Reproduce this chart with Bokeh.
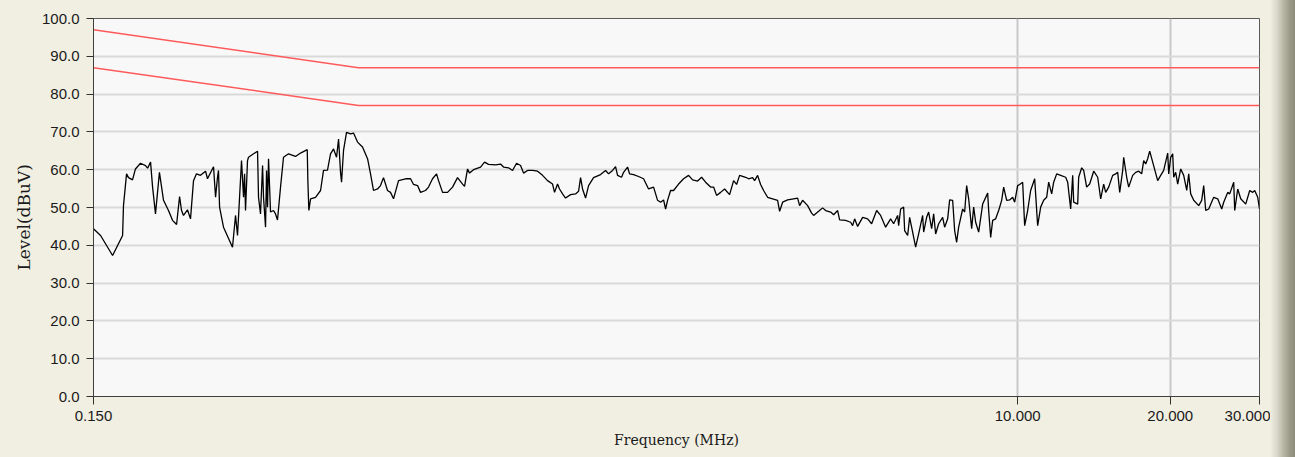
import re
from bokeh.plotting import figure
from bokeh.models import FixedTicker, CustomJSTickFormatter, PrintfTickFormatter, Title
from bokeh.embed import file_html
from bokeh.resources import INLINE

# ---- data ----
freq_mhz = [
    0.1500, 0.1549, 0.1636, 0.1712, 0.1719, 0.1743, 0.1759, 0.1791, 0.1815, 0.1857,
    0.1900, 0.1918, 0.1944, 0.1962, 0.1988, 0.2024, 0.2062, 0.2109, 0.2148, 0.2188,
    0.2218, 0.2238, 0.2258, 0.2299, 0.2331, 0.2363, 0.2395, 0.2439, 0.2496, 0.2518,
    0.2588, 0.2612, 0.2635, 0.2647, 0.2660, 0.2708, 0.2821, 0.2860, 0.2886, 0.2899,
    0.2939, 0.2966, 0.2980, 0.2993, 0.3020, 0.3034, 0.3104, 0.3161, 0.3175, 0.3204,
    0.3234, 0.3248, 0.3278, 0.3293, 0.3308, 0.3323, 0.3353, 0.3399, 0.3430, 0.3461,
    0.3509, 0.3557, 0.3639, 0.3757, 0.3843, 0.3962, 0.3973, 0.3991, 0.4022, 0.4114,
    0.4209, 0.4266, 0.4344, 0.4404, 0.4465, 0.4526, 0.4568, 0.4609, 0.4630, 0.4672,
    0.4736, 0.4823, 0.4889, 0.4979, 0.5093, 0.5211, 0.5282, 0.5354, 0.5452, 0.5527,
    0.5603, 0.5706, 0.5784, 0.5864, 0.5999, 0.6193, 0.6335, 0.6422, 0.6540, 0.6630,
    0.6781, 0.6875, 0.7001, 0.7130, 0.7195, 0.7327, 0.7495, 0.7667, 0.7843, 0.8024,
    0.8097, 0.8208, 0.8283, 0.8435, 0.8708, 0.8867, 0.9030, 0.9322, 0.9537, 0.9667,
    0.9889, 1.0071, 1.0256, 1.0444, 1.0587, 1.0781, 1.1029, 1.1282, 1.1542, 1.1807,
    1.2078, 1.2188, 1.2356, 1.2468, 1.2640, 1.2813, 1.3108, 1.3409, 1.3594, 1.3718,
    1.3843, 1.4033, 1.4226, 1.4552, 1.5023, 1.5368, 1.5579, 1.5865, 1.6082, 1.6229,
    1.6527, 1.6678, 1.6984, 1.7139, 1.7454, 1.7855, 1.8265, 1.8685, 1.9115, 1.9466,
    1.9733, 2.0004, 2.0187, 2.0371, 2.0651, 2.0934, 2.1416, 2.1907, 2.2411, 2.2822,
    2.3347, 2.3775, 2.4211, 2.4768, 2.5108, 2.5453, 2.5920, 2.6395, 2.7002, 2.7497,
    2.7875, 2.8257, 2.9039, 2.9438, 2.9978, 3.0251, 3.0667, 3.1088, 3.1514, 3.2092,
    3.2830, 3.3585, 3.3892, 3.4358, 3.5146, 3.6118, 3.6781, 3.7117, 3.7627, 3.8492,
    3.9198, 3.9555, 4.0465, 4.1207, 4.1772, 4.2733, 4.3319, 4.4114, 4.4517, 4.5748,
    4.6800, 4.7228, 4.7658, 4.8313, 4.9424, 5.0559, 5.1487, 5.2669, 5.3636, 5.4868,
    5.6130, 5.6900, 5.7944, 5.8209, 5.8740, 5.9546, 5.9818, 6.0639, 6.1192, 6.2033,
    6.2884, 6.3748, 6.4918, 6.5213, 6.6108, 6.6713, 6.7629, 6.8245, 6.8868, 6.9815,
    7.1096, 7.1744, 7.2729, 7.3393, 7.4401, 7.5080, 7.5765, 7.6458, 7.7861, 7.8572,
    7.9289, 8.0014, 8.1112, 8.1852, 8.2599, 8.3735, 8.5271, 8.7230, 8.7628, 8.8428,
    8.9236, 9.0459, 9.1703, 9.2961, 9.3810, 9.5098, 9.6404, 9.7728, 9.8618, 9.9971,
    10.088, 10.227, 10.320, 10.462, 10.605, 10.800, 10.948, 11.099, 11.251, 11.405,
    11.510, 11.668, 11.774, 11.936, 12.155, 12.434, 12.548, 12.720, 12.837, 12.895,
    13.132, 13.191, 13.373, 13.494, 13.679, 13.867, 14.122, 14.381, 14.579, 14.778,
    14.913, 15.118, 15.395, 15.607, 15.750, 15.894, 16.112, 16.185, 16.407, 16.557,
    16.861, 17.092, 17.327, 17.564, 17.725, 17.887, 18.050, 18.215, 18.465, 18.889,
    19.149, 19.412, 19.768, 19.858, 20.040, 20.223, 20.314, 20.499, 20.687, 20.971,
    21.259, 21.551, 21.748, 21.946, 22.247, 22.759, 23.071, 23.282, 23.495, 23.817,
    24.364, 24.811, 25.266, 25.497, 25.965, 26.202, 26.683, 26.805, 27.173, 27.546,
    28.179, 28.696, 29.090, 29.355, 29.758, 30.000,
]
level_dbuv = [
    44.4, 42.6, 37.3, 42.6, 50.5, 58.9, 57.9, 57.3, 60.2, 61.7,
    61.1, 60.4, 62.0, 55.4, 48.3, 59.3, 51.9, 49.2, 46.6, 45.5,
    52.9, 49.2, 47.9, 49.4, 47.0, 57.1, 58.9, 58.5, 59.6, 57.6,
    60.8, 52.7, 58.0, 59.8, 50.1, 44.8, 39.5, 47.9, 42.6, 47.4,
    62.4, 52.7, 58.9, 49.2, 62.4, 63.3, 64.2, 64.9, 52.7, 48.3,
    61.1, 52.7, 44.8, 59.8, 50.1, 62.9, 48.8, 49.2, 48.3, 46.7,
    55.4, 63.3, 64.2, 63.5, 64.4, 65.3, 57.1, 49.2, 52.3, 52.7,
    54.5, 59.8, 59.9, 64.2, 65.5, 63.3, 68.1, 59.3, 56.7, 65.1,
    69.9, 69.5, 69.7, 67.3, 66.0, 62.9, 58.9, 54.5, 54.9, 55.8,
    57.9, 54.5, 54.0, 52.3, 57.1, 57.6, 57.6, 56.1, 55.8, 54.0,
    54.5, 55.4, 57.6, 58.9, 57.1, 54.0, 54.0, 55.4, 57.9, 56.2,
    55.6, 60.2, 59.1, 60.0, 60.7, 62.0, 61.4, 61.3, 61.5, 60.7,
    60.5, 59.8, 61.7, 61.1, 59.1, 59.8, 59.8, 59.6, 58.5, 57.1,
    56.2, 54.0, 56.2, 54.9, 53.6, 52.5, 53.4, 53.6, 54.3, 57.9,
    54.9, 52.5, 55.8, 57.9, 58.7, 59.8, 58.9, 59.8, 60.8, 58.5,
    58.0, 59.3, 60.7, 58.9, 58.7, 58.2, 57.6, 54.9, 55.4, 51.9,
    51.4, 52.0, 49.6, 51.9, 54.5, 54.5, 56.2, 57.6, 58.5, 57.3,
    57.0, 58.0, 56.7, 55.4, 55.4, 53.2, 54.0, 54.9, 53.4, 57.1,
    56.1, 58.5, 58.0, 57.6, 57.9, 57.1, 58.5, 56.1, 54.5, 52.7,
    52.3, 51.9, 49.0, 51.4, 52.0, 52.3, 52.5, 50.5, 51.9, 50.5,
    48.5, 47.9, 49.0, 49.9, 49.2, 48.8, 48.1, 49.2, 46.7, 46.6,
    46.1, 45.2, 47.0, 45.0, 47.4, 47.0, 45.7, 49.2, 47.9, 44.8,
    47.0, 45.7, 47.9, 45.2, 49.6, 50.1, 43.9, 42.6, 47.4, 43.5,
    39.5, 43.0, 47.9, 43.5, 47.4, 48.8, 44.4, 48.3, 43.0, 45.7,
    47.4, 44.8, 47.0, 52.0, 51.9, 43.9, 40.8, 44.8, 49.6, 48.8,
    55.8, 52.3, 44.4, 50.1, 46.1, 43.5, 50.9, 53.8, 49.2, 42.1,
    46.6, 47.0, 49.2, 51.9, 55.4, 51.9, 52.0, 52.7, 51.4, 55.8,
    56.1, 56.7, 45.2, 49.2, 54.5, 57.6, 45.2, 50.1, 51.9, 52.7,
    56.7, 53.6, 56.7, 58.9, 58.5, 58.0, 56.7, 49.6, 58.5, 51.4,
    50.9, 58.0, 60.5, 59.8, 55.4, 56.2, 59.6, 58.0, 52.3, 56.2,
    54.0, 55.4, 58.5, 58.9, 59.3, 54.0, 59.8, 63.3, 58.0, 55.4,
    58.5, 59.3, 59.6, 58.9, 62.4, 61.5, 62.9, 64.9, 62.0, 57.1,
    58.5, 59.8, 64.4, 58.9, 63.3, 64.2, 58.0, 59.3, 56.2, 60.2,
    58.5, 54.5, 58.9, 53.6, 51.9, 50.5, 51.9, 55.8, 49.2, 49.6,
    52.7, 52.3, 49.6, 51.4, 54.0, 53.6, 56.7, 49.2, 54.9, 52.3,
    50.9, 54.5, 54.0, 54.5, 52.7, 49.6,
]

limit_freq = [0.15, 0.5, 30.0]
limit_upper = [97.0, 87.0, 87.0]
limit_lower = [87.0, 77.0, 77.0]

x_tick_values = [0.15, 10.0, 20.0, 30.0]
y_tick_values = [0, 10, 20, 30, 40, 50, 60, 70, 80, 90, 100]

BEIGE = "#F1EFE2"

p = figure(
    width=1270, height=455,
    x_axis_type="log", x_range=(0.15, 30.0), y_range=(0, 100),
    output_backend="svg", toolbar_location=None, title=None,
    min_border_left=93, min_border_right=11, min_border_top=18, min_border_bottom=59,
)
p.background_fill_color = "#F8F8F8"
p.border_fill_color = BEIGE
p.outline_line_color = "#5A5A5A"
p.outline_line_width = 1

# grids
p.xgrid.ticker = FixedTicker(ticks=x_tick_values)
p.xgrid.grid_line_color = "#C8C8C8"
p.xgrid.grid_line_width = 2
p.ygrid.ticker = FixedTicker(ticks=y_tick_values)
p.ygrid.grid_line_color = "#D9D9D9"
p.ygrid.grid_line_width = 2

# axes
p.xaxis.ticker = FixedTicker(ticks=x_tick_values)
p.xaxis.formatter = CustomJSTickFormatter(code="return tick.toFixed(3);")
p.yaxis.ticker = FixedTicker(ticks=y_tick_values)
p.yaxis.formatter = PrintfTickFormatter(format="%.1f")

for ax in (p.xaxis[0], p.yaxis[0]):
    ax.axis_line_color = "#404040"
    ax.axis_line_width = 1
    ax.major_tick_line_color = "#303030"
    ax.major_tick_in = 0
    ax.minor_tick_line_color = None
    ax.major_label_text_font = "Liberation Sans"
    ax.major_label_text_font_size = "15px"
    ax.major_label_text_color = "#1A1A1A"
    ax.axis_label_text_font = "DejaVu Serif"
    ax.axis_label_text_font_size = "14px"
    ax.axis_label_text_font_style = "normal"
    ax.axis_label_text_color = "#1A1A1A"

p.yaxis.major_tick_out = 7
p.yaxis.major_label_standoff = 7
p.xaxis.major_tick_out = 8
p.xaxis.major_label_standoff = 6
p.xaxis.axis_label = "Frequency (MHz)"
p.xaxis.axis_label_standoff = 8

# y axis title placed as a side title so it can be positioned along the axis
ytitle = Title(
    text="Level(dBuV)", align="left", offset=126, standoff=9,
    text_font="DejaVu Serif", text_font_size="17px", text_font_style="normal",
    text_color="#1A1A1A",
)
p.add_layout(ytitle, "left")

# limit lines
p.line(limit_freq, limit_upper, line_color="#FF5A5A", line_width=1.5)
p.line(limit_freq, limit_lower, line_color="#FF5A5A", line_width=1.5)

# measured trace
p.line(freq_mhz, level_dbuv, line_color="#000000", line_width=1.3)

html = file_html(p, INLINE)
style = (
    "<style>html, body { background: linear-gradient(to right, #F1EFE2 0px, #F1EFE2 1270px, "
    "#D9D7C8 1277px, #BAB8A6 1283px, #9A9886 1290px, #8E8C7B 1295px) !important; }</style>"
)
html = re.sub(r"</head>", style + "</head>", html, count=1)
open("out.html", "w").write(html)
